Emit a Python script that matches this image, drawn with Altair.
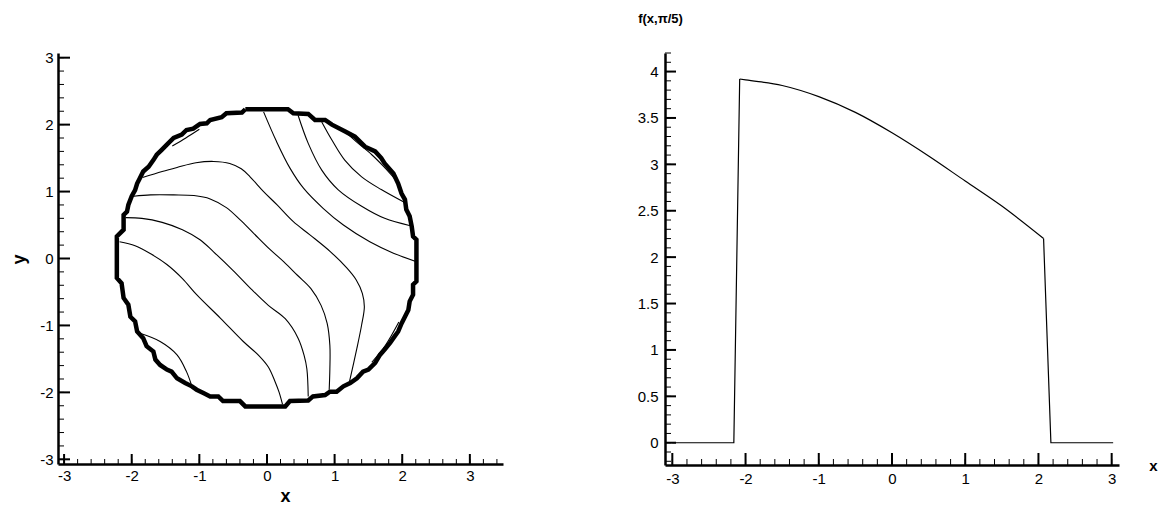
import altair as alt
import pandas as pd

# ---------------- left panel: level curves in the (x, y) plane ----------------
# each level curve is a list of (x, y) points
LEVEL_A = [(-1.84, 1.21), (-1.55, 1.30), (-1.33, 1.36), (-1.05, 1.43), (-0.79, 1.45),
           (-0.55, 1.42), (-0.38, 1.34), (-0.25, 1.22), (-0.05, 1.00), (0.15, 0.80),
           (0.39, 0.55), (0.64, 0.35), (0.94, 0.10), (1.18, -0.14), (1.32, -0.32),
           (1.41, -0.52), (1.44, -0.72), (1.40, -0.99), (1.33, -1.34), (1.22, -1.84)]
LEVEL_B = [(-1.97, 0.93), (-1.72, 0.95), (-1.38, 0.95), (-1.08, 0.94), (-0.84, 0.89),
           (-0.60, 0.76), (-0.40, 0.58), (-0.20, 0.38), (0.04, 0.14), (0.25, -0.05),
           (0.45, -0.25), (0.65, -0.45), (0.80, -0.70), (0.89, -0.97), (0.93, -1.30),
           (0.93, -1.65), (0.92, -1.96)]
LEVEL_C = [(-2.09, 0.61), (-1.85, 0.60), (-1.55, 0.54), (-1.25, 0.43), (-0.99, 0.28),
           (-0.79, 0.10), (-0.50, -0.18), (-0.22, -0.47), (0.02, -0.70), (0.27, -0.90),
           (0.46, -1.19), (0.55, -1.45), (0.59, -1.65), (0.61, -2.06)]
LEVEL_D = [(-2.18, 0.25), (-1.95, 0.19), (-1.72, 0.07), (-1.48, -0.09), (-1.25, -0.30),
           (-1.04, -0.54), (-0.69, -0.89), (-0.35, -1.24), (-0.12, -1.45), (0.02, -1.62),
           (0.12, -1.84), (0.18, -2.00), (0.23, -2.18)]
LEVEL_T1 = [(-0.05, 2.19), (0.14, 1.75), (0.34, 1.35), (0.54, 1.05), (0.83, 0.75),
            (1.13, 0.50), (1.52, 0.25), (1.87, 0.08), (2.19, -0.04)]
LEVEL_T2 = [(0.46, 2.14), (0.61, 1.72), (0.81, 1.32), (1.05, 1.03), (1.40, 0.78),
            (1.74, 0.60), (2.12, 0.49)]
LEVEL_T3 = [(0.81, 2.04), (0.96, 1.77), (1.15, 1.47), (1.40, 1.22), (1.69, 1.03),
            (2.03, 0.84)]
EDGE_NE = [(1.15, 1.90), (1.35, 1.72), (1.55, 1.55), (1.72, 1.38), (1.90, 1.18)]
EDGE_NW = [(-1.40, 1.68), (-1.20, 1.80), (-1.00, 1.93)]
EDGE_SW = [(-1.90, -1.11), (-1.58, -1.24), (-1.33, -1.44), (-1.19, -1.69), (-1.11, -1.91)]
EDGE_SE = [(1.55, -1.55), (1.75, -1.30), (1.95, -0.95)]

# staircase outline of the computational disc
BOUNDARY = [(-0.32, 2.23), (0.31, 2.23), (0.39, 2.17), (0.61, 2.16), (0.71, 2.07),
            (0.86, 2.07), (0.96, 2.00), (1.15, 1.90), (1.30, 1.82), (1.45, 1.67),
            (1.60, 1.60), (1.69, 1.50), (1.74, 1.42), (1.87, 1.27), (1.94, 1.12),
            (1.99, 0.97), (2.04, 0.88), (2.06, 0.73), (2.11, 0.63), (2.14, 0.48),
            (2.16, 0.33), (2.21, 0.28), (2.21, -0.34), (2.16, -0.39), (2.16, -0.54),
            (2.11, -0.64), (2.09, -0.77), (2.04, -0.87), (1.99, -0.97), (1.94, -1.09),
            (1.89, -1.16), (1.82, -1.26), (1.74, -1.36), (1.67, -1.44), (1.60, -1.56),
            (1.50, -1.66), (1.42, -1.69), (1.33, -1.79), (1.23, -1.86), (1.13, -1.91),
            (1.03, -1.99), (0.93, -1.99), (0.86, -2.04), (0.68, -2.06), (0.61, -2.12),
            (0.34, -2.13), (0.27, -2.21), (-0.32, -2.21), (-0.40, -2.13), (-0.65, -2.13),
            (-0.72, -2.06), (-0.84, -2.06), (-0.94, -2.01), (-1.04, -1.96), (-1.11, -1.91),
            (-1.21, -1.86), (-1.33, -1.79), (-1.41, -1.69), (-1.48, -1.66), (-1.58, -1.59),
            (-1.65, -1.51), (-1.68, -1.39), (-1.78, -1.31), (-1.83, -1.19), (-1.92, -1.09),
            (-1.95, -0.94), (-2.02, -0.87), (-2.05, -0.69), (-2.12, -0.59), (-2.15, -0.37),
            (-2.22, -0.29), (-2.22, 0.33), (-2.12, 0.43), (-2.12, 0.65), (-2.07, 0.70),
            (-2.05, 0.80), (-2.00, 0.93), (-1.95, 1.02), (-1.92, 1.12), (-1.88, 1.20),
            (-1.83, 1.30), (-1.75, 1.37), (-1.68, 1.47), (-1.63, 1.55), (-1.56, 1.62),
            (-1.48, 1.70), (-1.38, 1.80), (-1.26, 1.85), (-1.19, 1.92), (-1.09, 1.94),
            (-0.99, 2.01), (-0.89, 2.02), (-0.84, 2.07), (-0.67, 2.11), (-0.60, 2.17),
            (-0.37, 2.18), (-0.32, 2.23)]

# ---------------- right panel: profile f(x, pi/5) ----------------
F_X = [-3.00, -2.16, -2.08, -2.00, -1.50, -1.00, -0.50, 0.00, 0.50, 1.00, 1.50, 2.07, 2.17, 3.02]
F_Y = [0.00, 0.00, 3.92, 3.91, 3.85, 3.73, 3.56, 3.34, 3.09, 2.82, 2.55, 2.20, 0.00, 0.00]
# index range of the smooth part inside the support
ARC_START, ARC_END = 2, 11

# tick labels
XY_MAJOR = [-3, -2, -1, 0, 1, 2, 3]
F_MAJOR = [0, 0.5, 1, 1.5, 2, 2.5, 3, 3.5, 4]

FONT = "Liberation Sans"
LABEL_EXPR = "'' + datum.value"


def curves_frame(curves):
    rows = []
    for name, pts in curves.items():
        for i, (x, y) in enumerate(pts):
            rows.append({"curve": name, "i": i, "x": x, "y": y})
    return pd.DataFrame(rows)


def minor(lo, hi, step):
    n = int(round((hi - lo) / step))
    return pd.DataFrame({"v": [round(lo + k * step, 2) for k in range(n + 1)]})


def axis(values, title, **kw):
    return alt.Axis(values=values, ticks=False, grid=False, domainColor="black",
                    domainWidth=2.5, labelFont=FONT, labelFontSize=15, labelColor="black",
                    labelExpr=LABEL_EXPR, title=title, titleFont=FONT,
                    titleFontWeight="bold", titleColor="black", titleBaseline="middle",
                    **kw)


def inward_ticks(major, minor_df, scale, ax, orient, extent, major_len, minor_len):
    """Tick marks drawn on the inner side of an axis line."""
    layers = []
    for df, ln, sw in ((pd.DataFrame({"v": major}), major_len, 2), (minor_df, minor_len, 1)):
        base = alt.Chart(df).mark_rule(color="black", strokeWidth=sw)
        if orient == "x":
            layers.append(base.encode(x=alt.X("v:Q", scale=scale, axis=ax),
                                      y=alt.value(extent), y2=alt.value(extent - ln)))
        else:
            layers.append(base.encode(y=alt.Y("v:Q", scale=scale, axis=ax),
                                      x=alt.value(0), x2=alt.value(ln)))
    return layers


# ---- left panel ----
LW, LH = 445, 411
lx = alt.Scale(domain=[-3.09, 3.49], nice=False, zero=False)
ly = alt.Scale(domain=[-3.07, 3.07], nice=False, zero=False)
lx_axis = axis(XY_MAJOR, "x", labelPadding=4, titleFontSize=18, titleX=227, titleY=32,
               titleAlign="center")
ly_axis = axis(XY_MAJOR, "y", labelPadding=5, titleFontSize=18, titleX=-39, titleY=206,
               titleAlign="center", titleAngle=270)

levels = curves_frame({"a": LEVEL_A, "b": LEVEL_B, "c": LEVEL_C, "d": LEVEL_D,
                       "t1": LEVEL_T1, "t2": LEVEL_T2, "t3": LEVEL_T3,
                       "ne": EDGE_NE, "nw": EDGE_NW, "sw": EDGE_SW, "se": EDGE_SE})
outline = curves_frame({"disc": BOUNDARY})

level_lines = alt.Chart(levels).mark_line(
    color="black", strokeWidth=1.1, interpolate="catmull-rom").encode(
    x=alt.X("x:Q", scale=lx, axis=lx_axis),
    y=alt.Y("y:Q", scale=ly, axis=ly_axis),
    detail="curve:N", order="i:Q")
disc = alt.Chart(outline).mark_line(color="black", strokeWidth=4.5, strokeJoin="miter").encode(
    x=alt.X("x:Q", scale=lx, axis=lx_axis),
    y=alt.Y("y:Q", scale=ly, axis=ly_axis),
    order="i:Q")

left = alt.layer(
    level_lines, disc,
    *inward_ticks(XY_MAJOR, minor(-3.0, 3.4, 0.2), lx, lx_axis, "x", LH, 10, 5),
    *inward_ticks(XY_MAJOR, minor(-3.0, 3.0, 0.2), ly, ly_axis, "y", LH, 12, 6),
).properties(width=LW, height=LH)

# ---- right panel ----
RW, RH = 454, 412
rx = alt.Scale(domain=[-3.1, 3.1], nice=False, zero=False)
ry = alt.Scale(domain=[-0.24, 4.2], nice=False, zero=False)
rx_axis = axis(XY_MAJOR, "x", labelPadding=6, titleFontSize=15, titleX=488, titleY=0,
               titleAlign="center")
ry_axis = axis(F_MAJOR, "f(x,\u03c0/5)", labelPadding=7, titleFontSize=13, titleX=-5,
               titleY=-35, titleAlign="center", titleAngle=0)

profile_df = pd.DataFrame({"x": F_X, "y": F_Y})
arc_df = profile_df.iloc[ARC_START:ARC_END + 1]
edges_df = pd.concat([
    profile_df.iloc[:ARC_START + 1].assign(part="left"),
    profile_df.iloc[ARC_END:].assign(part="right"),
])

# jumps at the edge of the support and the zero tails stay straight
edges = alt.Chart(edges_df).mark_line(color="black", strokeWidth=1.2).encode(
    x=alt.X("x:Q", scale=rx, axis=rx_axis),
    y=alt.Y("y:Q", scale=ry, axis=ry_axis),
    detail="part:N")
arc = alt.Chart(arc_df).mark_line(
    color="black", strokeWidth=1.2, interpolate="monotone").encode(
    x=alt.X("x:Q", scale=rx, axis=rx_axis),
    y=alt.Y("y:Q", scale=ry, axis=ry_axis))

right = alt.layer(
    edges, arc,
    *inward_ticks(XY_MAJOR, minor(-3.0, 3.0, 0.2), rx, rx_axis, "x", RH, 12, 6),
    *inward_ticks(F_MAJOR, minor(-0.2, 4.2, 0.1), ry, ry_axis, "y", RH, 11, 6),
).properties(width=RW, height=RH)

chart = alt.hconcat(left, right, spacing=162, bounds="flush").resolve_scale(
    x="independent", y="independent"
).properties(
    padding={"left": 10, "top": 12, "right": 5, "bottom": 5},
    background="white",
).configure_view(stroke=None)

chart.save("out.html", embed_options={"renderer": "svg", "actions": False})
